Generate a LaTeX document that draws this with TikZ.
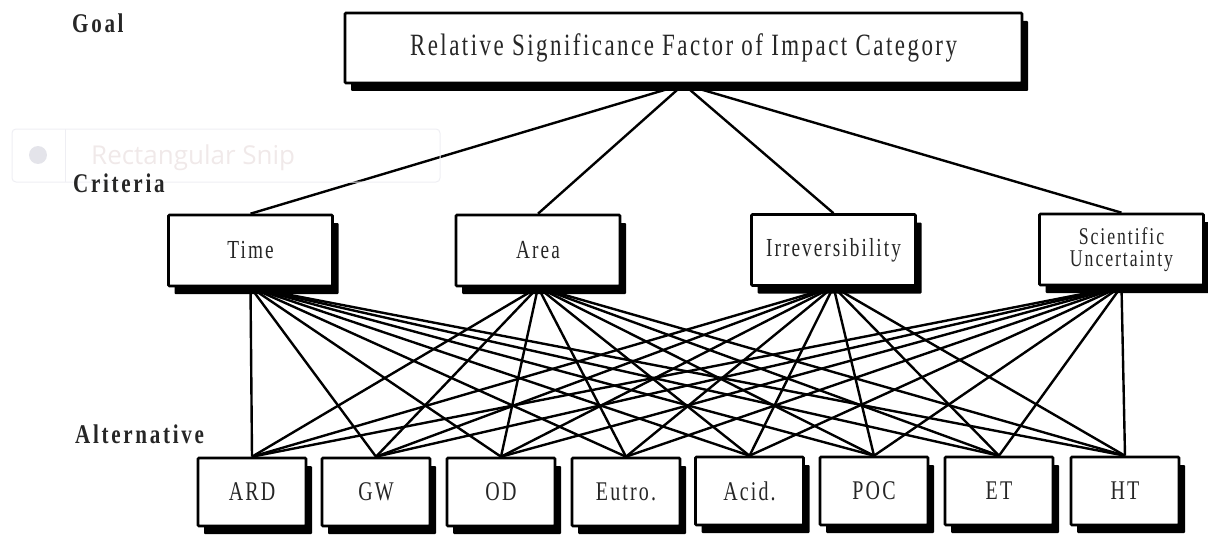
\documentclass[tikz,border=0pt]{standalone}
\usepackage{fontspec}
\setmainfont{Liberation Serif}[FakeStretch=0.74, LetterSpace=8]
\newfontfamily\lvlfont{Liberation Serif}[FakeStretch=0.78, LetterSpace=10]
\newfontfamily\snipfont{Open Sans}
\usetikzlibrary{shadows,backgrounds}
\definecolor{snipline}{HTML}{EEEEF3}
\definecolor{sniptext}{HTML}{F0E9E9}
\definecolor{snipdot}{HTML}{E4E4EA}
\tikzset{
  box/.style={draw=black, line width=2.6pt, fill=white, inner sep=0pt, align=center,
    text=black!85, rounded corners=1pt,
    drop shadow={shadow xshift=6pt, shadow yshift=-8pt, fill=black, opacity=1}},
  goalbox/.style={box, minimum width=677pt, minimum height=70pt, font=\fontsize{31}{33}\selectfont},
  critbox/.style={box, minimum width=164pt, minimum height=71pt, font=\fontsize{26}{27}\selectfont},
  altbox/.style={box, minimum width=108pt, minimum height=68pt, font=\fontsize{27}{29}\selectfont},
  lvl/.style={anchor=base west, inner sep=0pt, font=\lvlfont\bfseries\fontsize{27}{29}\selectfont, text=black!85},
  edge/.style={line width=2.4pt, black},
}
\begin{document}
\begin{tikzpicture}[x=1pt,y=-1pt]
\path[use as bounding box] (0,0) rectangle (1208,535);
% faint screenshot overlay
\draw[snipline, line width=1pt, rounded corners=4pt] (12,129) rectangle (440,182);
\draw[snipline, line width=1pt] (65,129) -- (65,182);
\fill[snipdot] (38,155) circle (9);
\node[anchor=base west, inner sep=0pt, text=sniptext, font=\snipfont\fontsize{26}{28}\selectfont] (snip) at (91,164) {Rectangular Snip};
% level labels
\node[lvl] (lgoal) at (72,33) {Goal};
\node[lvl] (lcrit) at (73,192) {Criteria};
\node[lvl] (lalt) at (75,443) {Alternative};
% goal
\node[goalbox] (goal) at (683.5,48) {Relative Significance Factor of Impact Category};
% criteria
\node[critbox] (time) at (250.5,250.5) {Time};
\node[critbox] (area) at (538,250.5) {Area};
\node[critbox] (irrev) at (833.5,250) {Irreversibility};
\node[critbox, font=\fontsize{24}{22}\selectfont] (sci) at (1121.5,249.5) {Scientific\\Uncertainty};
% alternatives
\node[altbox] (ard) at (252,492) {ARD};
\node[altbox] (gw) at (376,492) {GW};
\node[altbox] (od) at (501,492) {OD};
\node[altbox] (eutro) at (626,492) {Eutro.};
\node[altbox] (acid) at (749.5,491) {Acid.};
\node[altbox] (poc) at (874,491) {POC};
\node[altbox] (et) at (999,491) {ET};
\node[altbox] (ht) at (1125,491) {HT};
\begin{scope}[on background layer]
  \foreach \c in {time,area,irrev,sci}
    \draw[edge] (goal.south) -- (\c.north);
  \foreach \c in {time,area,irrev,sci}
    \foreach \a in {ard,gw,od,eutro,acid,poc,et,ht}
      \draw[edge] (\c.south) -- (\a.north);
\end{scope}
\end{tikzpicture}
\end{document}
